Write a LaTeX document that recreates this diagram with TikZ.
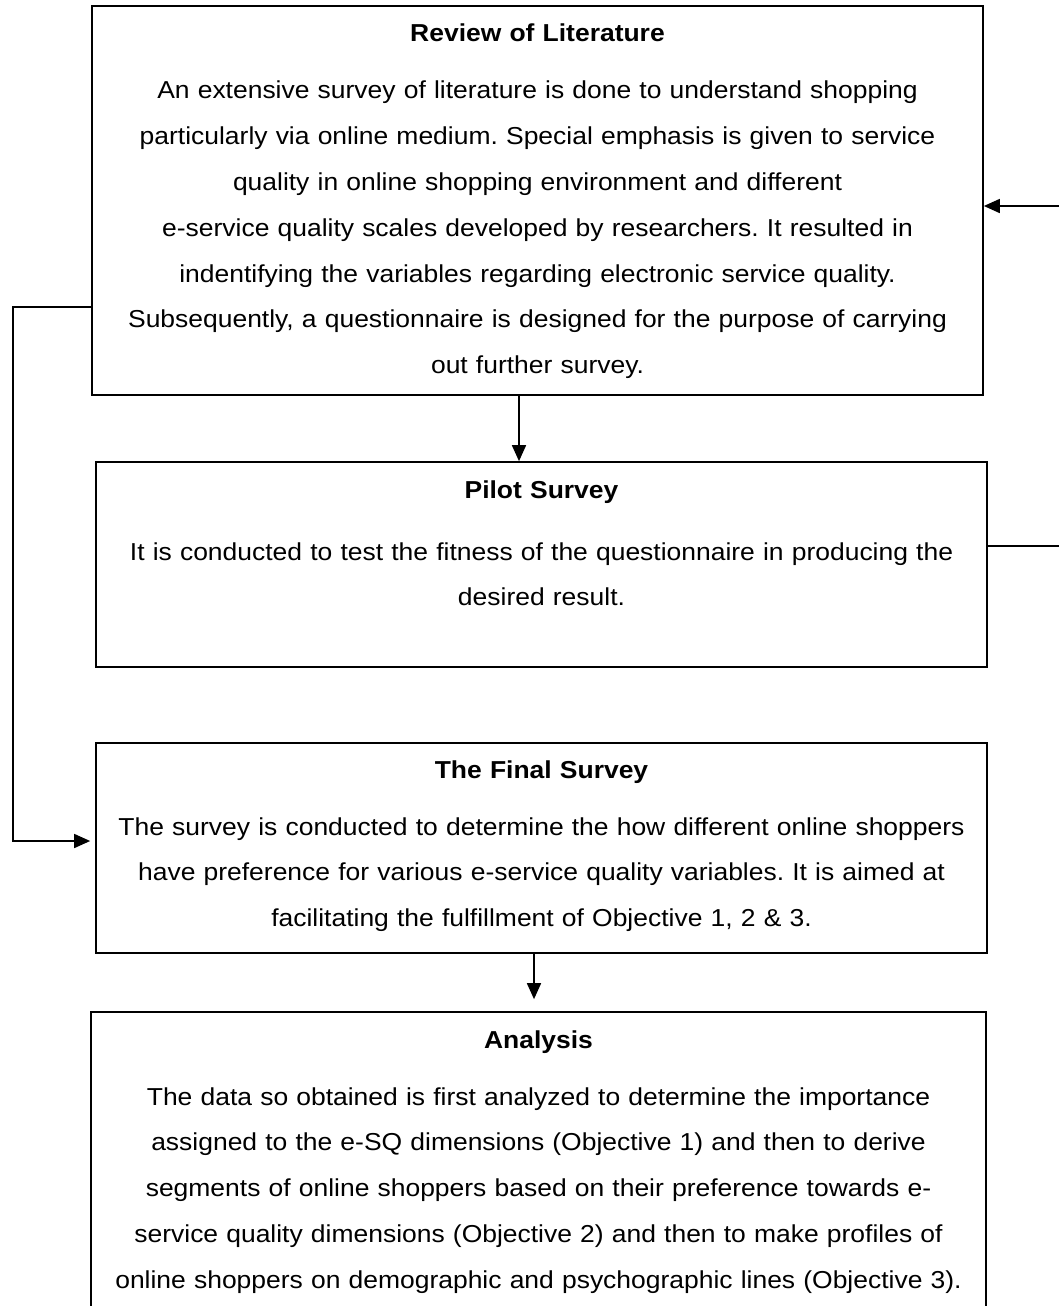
\documentclass[tikz,border=0pt]{standalone}
\usepackage{fontspec}
\setmainfont[FakeStretch=1.08]{Liberation Sans}
\usetikzlibrary{arrows.meta}
\frenchspacing
\tikzset{
  box/.style={draw=black, line width=1.7pt, fill=none, inner sep=0pt, rectangle},
  ttl/.style={anchor=base, text width=880pt, align=center, inner sep=0pt, font=\frenchspacing\bfseries\fontsize{24.5}{45.8}\selectfont},
  body/.style={anchor=base, text width=880pt, align=center, inner sep=0pt, font=\frenchspacing\fontsize{24.5}{45.8}\selectfont},
  conn/.style={draw=black, line width=1.7pt},
  arr/.style={conn, -{Triangle[length=16pt,width=14pt]}}
}
\begin{document}
\begin{tikzpicture}[x=1pt,y=-1pt]
\useasboundingbox (0,0) rectangle (1059,1306);
\fill[white] (0,0) rectangle (1059,1306);
\clip (0,0) rectangle (1059,1306);

% boxes
\node[box, minimum width=891pt, minimum height=389pt] (lit) at (537.5,200.5) {};
\node[box, minimum width=891pt, minimum height=205pt] (pilot) at (541.5,564.5) {};
\node[box, minimum width=891pt, minimum height=210pt] (final) at (541.5,848) {};
\node[box, minimum width=895pt, minimum height=330pt] (ana) at (538.5,1177) {};

% texts
\node[ttl] (litT) at (537.5,42) {Review of Literature};
\node[body] (litB) at (537.5,99) {An extensive survey of literature is done to understand shopping\\
particularly via online medium. Special emphasis is given to service\\
quality in online shopping environment and different\\
e-service quality scales developed by researchers. It resulted in\\
indentifying the variables regarding electronic service quality.\\
Subsequently, a questionnaire is designed for the purpose of carrying\\
out further survey.};

\node[ttl] (pilotT) at (541.5,498) {Pilot Survey};
\node[body] (pilotB) at (541.5,560) {It is conducted to test the fitness of the questionnaire in producing the\\
desired result.};

\node[ttl] (finalT) at (541.5,778) {The Final Survey};
\node[body] (finalB) at (541.5,835) {The survey is conducted to determine the how different online shoppers\\
have preference for various e-service quality variables. It is aimed at\\
facilitating the fulfillment of Objective 1, 2 \& 3.};

\node[ttl] (anaT) at (538.5,1048) {Analysis};
\node[body] (anaB) at (538.5,1105) {The data so obtained is first analyzed to determine the importance\\
assigned to the e-SQ dimensions (Objective 1) and then to derive\\
segments of online shoppers based on their preference towards e-\\
service quality dimensions (Objective 2) and then to make profiles of\\
online shoppers on demographic and psychographic lines (Objective 3).};

% connectors
\coordinate (lft) at (13,307);
\coordinate (lfb) at (13,841);
\coordinate (rtop) at (1059,206);
\coordinate (rpil) at (1059,546);

\draw[arr, shorten >=5pt] (lit.west |- lft) -- (lft) -- (lfb) -- (final.west |- lfb);
\draw[arr] (rtop) -- (lit.east |- rtop);
\draw[conn] (pilot.east |- rpil) -- (rpil);
\draw[arr] ([xshift=-18.5pt]lit.south) -- ([xshift=-18.5pt]lit.south |- pilot.north);
\draw[arr, shorten >=12pt] ([xshift=-7.5pt]final.south) -- ([xshift=-7.5pt]final.south |- ana.north);
\end{tikzpicture}
\end{document}
